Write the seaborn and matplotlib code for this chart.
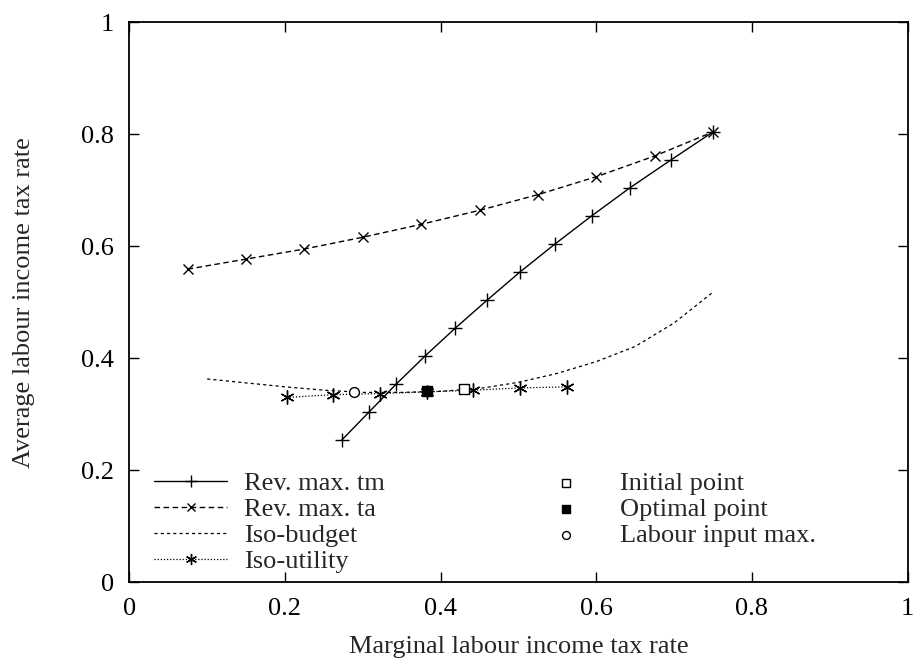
import numpy as np
import pandas as pd
import matplotlib
matplotlib.use("Agg")
import matplotlib.pyplot as plt
import seaborn as sns

# data
tm_x = [0.273, 0.308, 0.343, 0.380, 0.419, 0.460, 0.502, 0.547, 0.594, 0.643, 0.696, 0.750]
tm_y = [0.254, 0.304, 0.354, 0.404, 0.454, 0.504, 0.554, 0.604, 0.654, 0.704, 0.754, 0.804]

ta_x = [0.075, 0.150, 0.225, 0.300, 0.375, 0.450, 0.525, 0.600, 0.675, 0.750]
ta_y = [0.559, 0.577, 0.595, 0.616, 0.639, 0.664, 0.692, 0.724, 0.761, 0.804]

budget_x = [0.10, 0.15, 0.20, 0.25, 0.30, 0.35, 0.40, 0.45, 0.50, 0.55, 0.60, 0.65, 0.70, 0.75]
budget_y = [0.363, 0.356, 0.349, 0.343, 0.339, 0.339, 0.341, 0.346, 0.357, 0.373, 0.394, 0.421, 0.463, 0.518]

utility_x = [0.202, 0.262, 0.322, 0.382, 0.442, 0.502, 0.562]
utility_y = [0.330, 0.335, 0.337, 0.340, 0.343, 0.347, 0.349]

initial_pt = (0.430, 0.345)
optimal_pt = (0.383, 0.341)
labour_max_pt = (0.289, 0.339)

ticks = [0, 0.2, 0.4, 0.6, 0.8, 1]
tick_labels = ["0", "0.2", "0.4", "0.6", "0.8", "1"]

FS = 19

sns.set_style("ticks")
plt.rcParams['font.family'] = ['Liberation Serif', 'DejaVu Serif']
plt.rcParams['font.size'] = FS

fig = plt.figure(figsize=(9.14, 6.61), dpi=100)
ax = fig.add_axes([0.1415, 0.1190, 0.8515, 0.8476])

line_kw = dict(ax=ax, color='black', sort=False, estimator=None,
               markeredgecolor='black', markerfacecolor='black')

sns.lineplot(x=budget_x, y=budget_y, lw=0.9, linestyle=(0, (2.5, 2.5)),
             label='Iso-budget', zorder=2, **line_kw)
sns.lineplot(x=utility_x, y=utility_y, lw=0.9, linestyle=(0, (1, 1.5)),
             marker=(6, 2, 0), markersize=10, markeredgewidth=1.0,
             label='Iso-utility', zorder=2, **line_kw)
sns.lineplot(x=tm_x, y=tm_y, lw=1.0, linestyle='-', marker='+',
             markersize=10, markeredgewidth=1.0,
             label='Rev. max. tm', zorder=3, **line_kw)
sns.lineplot(x=ta_x, y=ta_y, lw=1.0, linestyle=(0, (4, 2.5)), marker='x',
             markersize=7, markeredgewidth=1.0,
             label='Rev. max. ta', zorder=3, **line_kw)

sns.scatterplot(x=[initial_pt[0]], y=[initial_pt[1]], ax=ax, marker='s', s=55,
                facecolor='white', edgecolor='black', linewidth=1.0,
                label='Initial point', zorder=4)
sns.scatterplot(x=[optimal_pt[0]], y=[optimal_pt[1]], ax=ax, marker='s', s=55,
                color='black', edgecolor='black', linewidth=1.0,
                label='Optimal point', zorder=4)
sns.scatterplot(x=[labour_max_pt[0]], y=[labour_max_pt[1]], ax=ax, marker='o', s=50,
                facecolor='white', edgecolor='black', linewidth=1.0,
                label='Labour input max.', zorder=4)

ax.set_xlim(0, 1)
ax.set_ylim(0, 1)
ax.set_xticks(ticks)
ax.set_xticklabels(tick_labels)
ax.set_yticks(ticks)
ax.set_yticklabels(tick_labels)
ax.tick_params(direction='in', length=7, width=1, top=True, right=True,
               labelsize=FS, colors='black')
ax.tick_params(axis='x', pad=11)
ax.tick_params(axis='y', pad=11)
for sp in ax.spines.values():
    sp.set_linewidth(1.3)
    sp.set_color('black')

ax.set_xlabel("Marginal labour income tax rate", fontsize=FS, labelpad=12)
ax.set_ylabel("Average labour income tax rate", fontsize=FS, labelpad=33)

order = ['Rev. max. tm', 'Rev. max. ta', 'Iso-budget', 'Iso-utility',
         'Initial point', 'Optimal point', 'Labour input max.']
handles, labels = ax.get_legend_handles_labels()
lookup = dict(zip(labels, handles))
leg = ax.legend([lookup[l] for l in order], order, ncol=2, loc='lower left',
                frameon=False, fontsize=FS, handlelength=2.75, handletextpad=0.65,
                columnspacing=5.5, labelspacing=0.09, borderpad=0.0,
                borderaxespad=0.0, bbox_to_anchor=(0.032, 0.017),
                markerscale=0.8)

fig.savefig("out.png", dpi=100)
